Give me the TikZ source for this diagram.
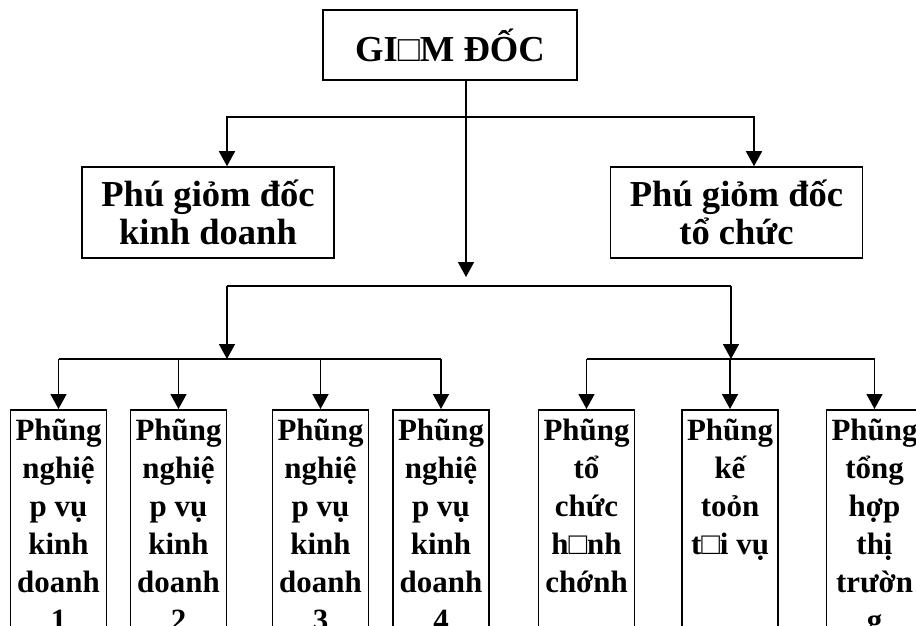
\documentclass[tikz,border=0pt]{standalone}
\usepackage{fontspec}
\setmainfont{Liberation Serif}
\usetikzlibrary{arrows.meta,calc}
\tikzset{
  >={Triangle[length=0.375cm,width=0.4cm]},
  every node/.style={font=\bfseries},
  box/.style={draw,line width=1.1pt,align=center,inner sep=0pt},
  headbox/.style={box,minimum width=6.35cm,minimum height=1.75cm,font=\fontsize{26}{32}\selectfont\bfseries},
  deputybox/.style={box,minimum width=6.3cm,minimum height=2.275cm,font=\fontsize{26}{26.5}\selectfont\bfseries},
  deptbox/.style={box,anchor=north,minimum width=2.4cm,minimum height=7.8cm},
  depttext/.style={anchor=north,align=center,inner sep=0pt,yshift=-0.25cm,font=\fontsize{22}{27}\selectfont\bfseries},
  line/.style={line width=1.1pt},
  arrow/.style={->,line width=1.1pt},
}
\begin{document}
\begin{tikzpicture}[x=0.025cm,y=-0.025cm]
  \clip (0,0) rectangle (916,626);
  \node[headbox] (gd) at (450,45) {GI□M ĐỐC};
  \node[deputybox] (pkd) at (208,212.5) {Phú giỏm đốc\\kinh doanh};
  \node[deputybox] (ptc) at (736.5,212.5) {Phú giỏm đốc\\tổ chức};

  % departments
  \node[deptbox] (nv1) at (58.5,409) {};
  \node[deptbox] (nv2) at (178.5,409) {};
  \node[deptbox] (nv3) at (320.5,409) {};
  \node[deptbox] (nv4) at (441,409) {};
  \node[deptbox] (tc) at (586.5,409) {};
  \node[deptbox] (kt) at (730,409) {};
  \node[deptbox] (th) at (874.5,409) {};
  \node[depttext] (nv1t) at (nv1.north) {Phũng\\nghiệ\\p vụ\\kinh\\doanh\\1};
  \node[depttext] (nv2t) at (nv2.north) {Phũng\\nghiệ\\p vụ\\kinh\\doanh\\2};
  \node[depttext] (nv3t) at (nv3.north) {Phũng\\nghiệ\\p vụ\\kinh\\doanh\\3};
  \node[depttext] (nv4t) at (nv4.north) {Phũng\\nghiệ\\p vụ\\kinh\\doanh\\4};
  \node[depttext] (tct) at (tc.north) {Phũng\\tổ\\ chức\\h□nh\\chớnh};
  \node[depttext] (ktt) at (kt.north) {Phũng\\kế\\toỏn\\t□i vụ};
  \node[depttext] (tht) at (th.north) {Phũng\\tổng\\hợp\\thị\\trườn\\g};

  % connectors
  \coordinate (split) at (466,117);
  \coordinate (down) at (466,277);
  \coordinate (kdtap) at (227,286);
  \coordinate (tctap) at (731,286);
  \coordinate (busL) at (250,359);
  \draw[arrow] (gd.south -| split) -- (down);
  \draw[arrow] (split) -| ($(pkd.north)+(19,0)$);
  \draw[arrow] (split) -| ($(ptc.north)+(17.5,0)$);
  \draw[line] (kdtap) -- (tctap);
  \draw[arrow] (kdtap) -- (kdtap |- busL);
  \draw[arrow] (tctap) -- (tctap |- busL);
  \draw[line] (nv1.north |- busL) -- (nv4.north |- busL);
  \draw[line] (tc.north |- busL) -- (th.north |- busL);
  \foreach \d in {nv1,nv2,nv3,nv4,tc,kt,th}
    \draw[arrow] (\d.north |- busL) -- (\d.north);
\end{tikzpicture}
\end{document}
